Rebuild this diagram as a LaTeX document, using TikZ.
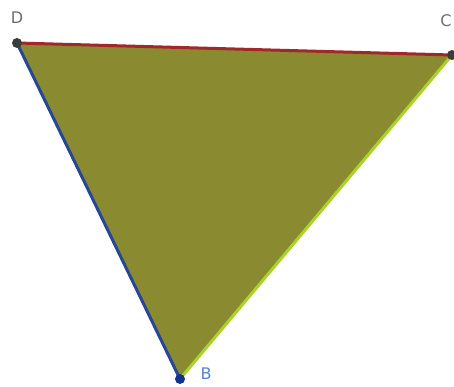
\documentclass[tikz,border=0pt]{standalone}
\usepackage{fontspec}
\setmainfont{DejaVu Sans}
\definecolor{fillol}{RGB}{138,138,48}
\definecolor{redl}{RGB}{160,40,40}
\definecolor{bluel}{RGB}{40,70,150}
\definecolor{greenl}{RGB}{170,210,40}
\definecolor{lblgray}{RGB}{110,110,110}
\definecolor{lblblue}{RGB}{90,130,210}
\definecolor{ptdark}{RGB}{60,60,60}
\definecolor{ptblue}{RGB}{20,50,140}
\tikzset{
  lbl/.style={font=\fontsize{16}{16}\selectfont, inner sep=0pt},
  pt/.style={circle, inner sep=0pt, minimum size=10pt},
  edge/.style={line width=3pt}
}
\begin{document}
\begin{tikzpicture}[x=1pt,y=-1pt]
\useasboundingbox (0,0) rectangle (454,387);
\fill[white] (0,0) rectangle (454,387);
\coordinate (D) at (17,43);
\coordinate (C) at (452,55);
\coordinate (B) at (180,379);
\fill[fillol] (D) -- (C) -- (B) -- cycle;
\draw[edge, redl] (D) -- (C);
\draw[edge, bluel] (D) -- (B);
\draw[edge, greenl] (B) -- (C);
\node[pt, fill=ptdark] (pD) at (D) {};
\node[pt, fill=ptdark] (pC) at (C) {};
\node[pt, fill=ptblue] (pB) at (B) {};
\node[lbl, text=lblgray] (lD) at (17,18) {D};
\node[lbl, text=lblgray] (lC) at (446,21) {C};
\node[lbl, text=lblblue] (lB) at (206,374) {B};
\end{tikzpicture}
\end{document}
